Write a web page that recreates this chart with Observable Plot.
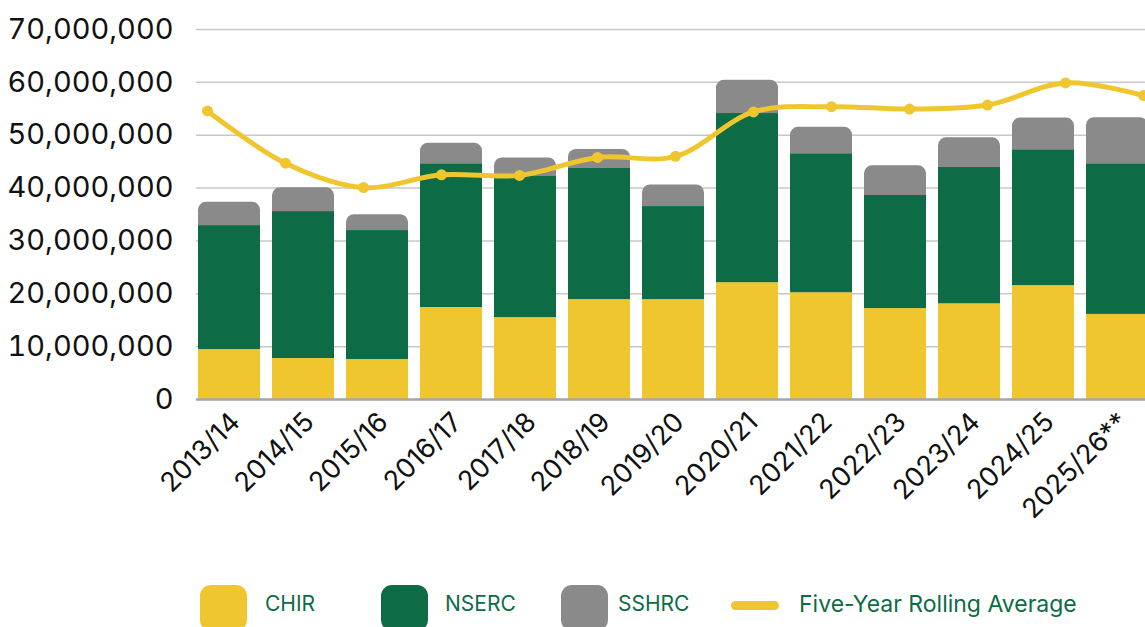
<!DOCTYPE html>
<html>
<head>
<meta charset="utf-8">
<script src="https://cdn.jsdelivr.net/npm/d3@7"></script>
<script src="https://cdn.jsdelivr.net/npm/@observablehq/plot@0.6"></script>
<style>
  html, body { margin: 0; padding: 0; background: #fff; overflow: hidden; width: 1145px; height: 627px; }
  #wrap { position: relative; width: 1145px; height: 627px; overflow: hidden; font-family: "Inter", sans-serif; }
  #bars, #line { position: absolute; left: 0; top: 0; }
  #legend { position: absolute; left: 0; top: 0; width: 1145px; height: 627px; pointer-events: none; }
  .sw { position: absolute; width: 47px; height: 46px; border-radius: 11px; top: 585px; }
  .lsw { position: absolute; width: 48px; height: 9px; border-radius: 5px; top: 601px; }
  .lt { position: absolute; top: 591px; font-size: 21px; color: #0D6B45; font-family: "Inter", sans-serif; white-space: nowrap; }
</style>
</head>
<body>
<div id="wrap">
  <div id="bars"></div>
  <div id="line"></div>
  <div id="legend"></div>
</div>
<script>
// ---- Data ----
const years = ["2013/14", "2014/15", "2015/16", "2016/17", "2017/18", "2018/19", "2019/20",
               "2020/21", "2021/22", "2022/23", "2023/24", "2024/25", "2025/26**"];
const chir  = [9450000, 7750000, 7560000, 17400000, 15500000, 18900000, 18900000,
               22100000, 20200000, 17200000, 18100000, 21550000, 16100000];
const nserc = [23450000, 27800000, 24400000, 27200000, 26700000, 24800000, 17600000,
               32000000, 26300000, 21400000, 25800000, 25700000, 28500000];
const sshrc = [4400000, 4500000, 3000000, 3900000, 3500000, 3600000, 4100000,
               6300000, 5000000, 5600000, 5600000, 6000000, 8700000];
const rolling = [54600000, 44700000, 40100000, 42500000, 42400000, 45800000, 46000000,
                 54400000, 55400000, 54950000, 55700000, 59900000, 57500000];
const seriesNames = ["CHIR", "NSERC", "SSHRC"];
const lineName = "Five-Year Rolling Average";
const yTicks = [0, 10000000, 20000000, 30000000, 40000000, 50000000, 60000000, 70000000];

// ---- Styles ----
const colors = {CHIR: "#F0C62F", NSERC: "#0D6B45", SSHRC: "#8A8A8A", line: "#F0C62F"};
const font = "Inter, sans-serif";

// ---- Tables ----
const stackRows = [];
years.forEach((y, i) => {
  stackRows.push({year: y, series: "CHIR", value: chir[i]});
  stackRows.push({year: y, series: "NSERC", value: nserc[i]});
});
const topRows = years.map((y, i) => ({year: y, series: "SSHRC", base: chir[i] + nserc[i], top: chir[i] + nserc[i] + sshrc[i]}));
const lineRows = years.map((y, i) => ({year: y, value: rolling[i]}));

const W = 1145, H = 570;
const yDomain = [0, 70000000];
const mTop = 29, mBottom = H - 399, mLeft = 196;

const bars = Plot.plot({
  width: W, height: H,
  marginTop: mTop, marginBottom: mBottom, marginLeft: mLeft, marginRight: 0,
  style: {fontFamily: font, color: "#111", background: "transparent", overflow: "hidden"},
  x: {domain: years, range: [192.5, 1154], paddingInner: 0.167, paddingOuter: 0, label: null},
  y: {domain: yDomain, label: null},
  color: {domain: seriesNames, range: seriesNames.map(s => colors[s])},
  marks: [
    Plot.gridY(yTicks, {stroke: "#C8C8C8", strokeOpacity: 1, strokeWidth: 1.5}),
    Plot.rectY(stackRows, Plot.stackY({x: "year", y: "value", fill: "series", order: seriesNames})),
    Plot.rectY(topRows, {x: "year", y1: "base", y2: "top", fill: "series", ry2: 8}),
    Plot.ruleY([0], {stroke: "#A6A6A6", strokeWidth: 2.5}),
    Plot.axisY({ticks: yTicks, tickFormat: d3.format(","), tickSize: 0, tickPadding: 23, fontSize: 29, fill: "#111"}),
    Plot.axisX({tickRotate: -45, tickSize: 0, tickPadding: 18, dx: 6, fontSize: 27, fill: "#111"})
  ]
});
document.getElementById("bars").appendChild(bars);

const line = Plot.plot({
  width: W, height: H,
  marginTop: mTop, marginBottom: mBottom, marginLeft: mLeft, marginRight: 0,
  style: {background: "transparent", overflow: "hidden"},
  x: {type: "point", domain: years, range: [207, 1143], padding: 0, axis: null},
  y: {domain: yDomain, axis: null},
  marks: [
    Plot.line(lineRows, {x: "year", y: "value", stroke: colors.line, strokeWidth: 5, curve: "catmull-rom"}),
    Plot.dot(lineRows, {x: "year", y: "value", fill: colors.line, r: 5.5})
  ]
});
document.getElementById("line").appendChild(line);

// ---- Legend ----
const legend = document.getElementById("legend");
const items = [
  {name: "CHIR", sw: 200, tx: 265},
  {name: "NSERC", sw: 381, tx: 445},
  {name: "SSHRC", sw: 561, tx: 618}
];
items.forEach(it => {
  const s = document.createElement("div");
  s.className = "sw"; s.style.left = it.sw + "px"; s.style.background = colors[it.name];
  legend.appendChild(s);
  const t = document.createElement("div");
  t.className = "lt"; t.style.left = it.tx + "px"; t.textContent = it.name;
  legend.appendChild(t);
});
const ls = document.createElement("div");
ls.className = "lsw"; ls.style.left = "731px"; ls.style.background = colors.line;
legend.appendChild(ls);
const lt = document.createElement("div");
lt.className = "lt"; lt.style.left = "799px"; lt.style.fontSize = "23px"; lt.style.top = "590px"; lt.textContent = lineName;
legend.appendChild(lt);
</script>
</body>
</html>
